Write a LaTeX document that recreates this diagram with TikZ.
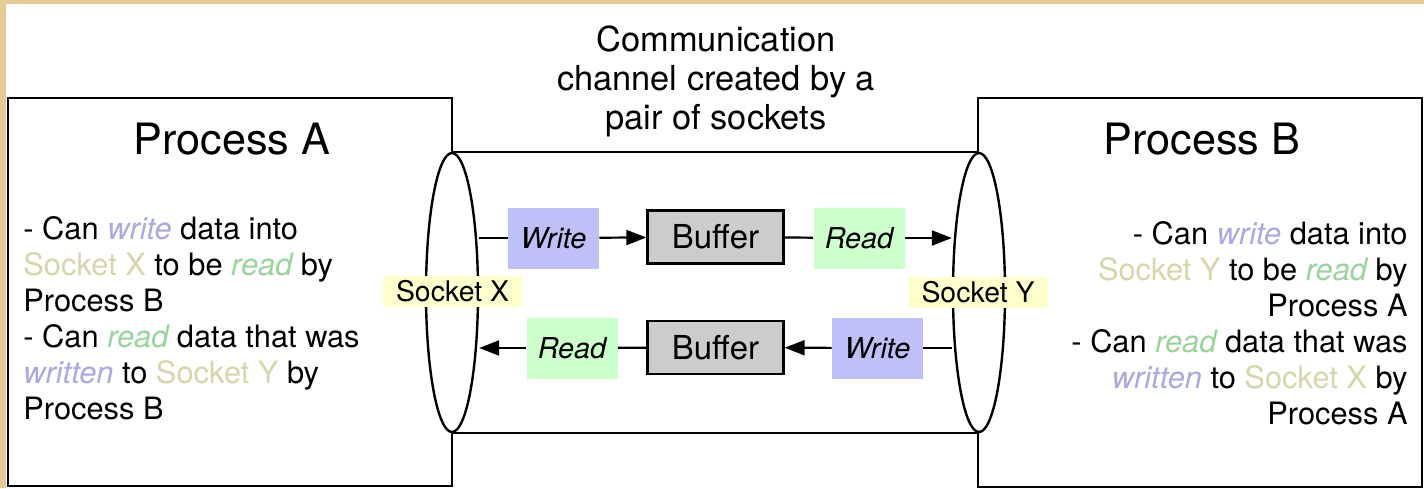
\documentclass[tikz,border=0pt]{standalone}
\usepackage{fontspec}
\setmainfont{TeX Gyre Heros}
\usetikzlibrary{arrows.meta,shapes.geometric}

\definecolor{wrfill}{HTML}{C0C0F8}
\definecolor{wrtext}{HTML}{A9A9E3}
\definecolor{rdfill}{HTML}{CCFFCC}
\definecolor{rdtext}{HTML}{99D49C}
\definecolor{sktext}{HTML}{D6D6AA}
\definecolor{skfill}{HTML}{FFFFCC}
\definecolor{buffill}{HTML}{CCCCCC}
\definecolor{framecol}{HTML}{E4CA94}

\newcommand{\bodysize}{\fontsize{15.4pt}{18pt}\selectfont}
\newcommand{\wrword}[1]{\textcolor{wrtext}{\itshape #1}}
\newcommand{\rdword}[1]{\textcolor{rdtext}{\itshape #1}}
\newcommand{\skword}[1]{\textcolor{sktext}{#1}}

\tikzset{
  procbox/.style={draw, line width=1.4pt, inner sep=0pt, minimum width=222pt, minimum height=194pt},
  sockend/.style={ellipse, draw, fill=white, line width=1.2pt, inner sep=0pt,
    minimum width=26pt, minimum height=139.5pt},
  opbox/.style={inner sep=0pt, minimum width=45.5pt, minimum height=30.5pt,
    font=\fontsize{14.4pt}{17pt}\selectfont\itshape},
  wrbox/.style={opbox, fill=wrfill},
  rdbox/.style={opbox, fill=rdfill},
  bufbox/.style={draw, fill=buffill, line width=1.2pt, inner sep=0pt,
    minimum width=68pt, minimum height=26.5pt, font=\fontsize{16.5pt}{19pt}\selectfont},
  skbox/.style={fill=skfill, inner sep=0pt, minimum width=69.5pt, minimum height=15.5pt,
    font=\fontsize{14.2pt}{17pt}\selectfont},
  link/.style={line width=1.1pt},
  flow/.style={line width=1.1pt, -{Triangle[length=10pt,width=7.5pt]}}
}

\begin{document}
\begin{tikzpicture}[x=0.5pt,y=-0.5pt]
\useasboundingbox (0,0) rectangle (1424,488);
% frame
\fill[framecol] (0,0) rectangle (1424,488);
\fill[white] (6,4) rectangle (1424,488);

% the two processes
\node[procbox] (procA) at (230,292) {};
\node[procbox, minimum height=194.5pt] (procB) at (1200,292.5) {};
\node[anchor=base, font=\fontsize{21.6pt}{26pt}\selectfont] (titA) at (232,154) {Process A};
\node[anchor=base, font=\fontsize{21.6pt}{26pt}\selectfont] (titB) at (1202,154) {Process B};

% channel
\node[align=center, font=\fontsize{17.2pt}{19.5pt}\selectfont, anchor=base] (chan) at (716,129)
  {Communication\\channel created by a\\pair of sockets};
\node[sockend] (endX) at (452,292.5) {};
\node[sockend] (endY) at (979,292.5) {};
\draw[line width=1.2pt] (endX.north) -- (endY.north);
\draw[line width=1.2pt] (endX.south) -- (endY.south);

% upper path
\node[wrbox] (wrA) at (553.5,238) {Write};
\node[bufbox] (bufA) at (715.5,237) {Buffer};
\node[rdbox] (rdA) at (859,238) {Read};
\draw[link] (endX.east |- wrA) -- (wrA);
\draw[flow] (wrA) -- (bufA);
\draw[link] (bufA) -- (rdA);
\draw[flow] (rdA) -- (endY.west |- rdA);

% lower path
\node[rdbox] (rdB) at (572,348) {Read};
\node[bufbox] (bufB) at (715.5,347.5) {Buffer};
\node[wrbox] (wrB) at (877.5,348) {Write};
\draw[link] (endY.west |- wrB) -- (wrB);
\draw[flow] (wrB) -- (bufB);
\draw[link] (bufB) -- (rdB);
\draw[flow] (rdB) -- (endX.east |- rdB);

% socket labels
\node[skbox] (skX) at (452.5,291) {Socket X};
\node[skbox] (skY) at (978,292.5) {Socket Y};

% what each side can do
\node[anchor=north west, align=left, font=\bodysize, inner sep=0pt] (txtA) at (23,216)
  {- Can \wrword{write} data into\\
   \skword{Socket X} to be \rdword{read} by\\
   Process B\\
   - Can \rdword{read} data that was\\
   \wrword{written} to \skword{Socket Y} by\\
   Process B};
\node[anchor=north east, align=right, font=\bodysize, inner sep=0pt] (txtB) at (1408,221)
  {- Can \wrword{write} data into\\
   \skword{Socket Y} to be \rdword{read} by\\
   Process A\\
   - Can \rdword{read} data that was\\
   \wrword{written} to \skword{Socket X} by\\
   Process A};

\end{tikzpicture}
\end{document}
